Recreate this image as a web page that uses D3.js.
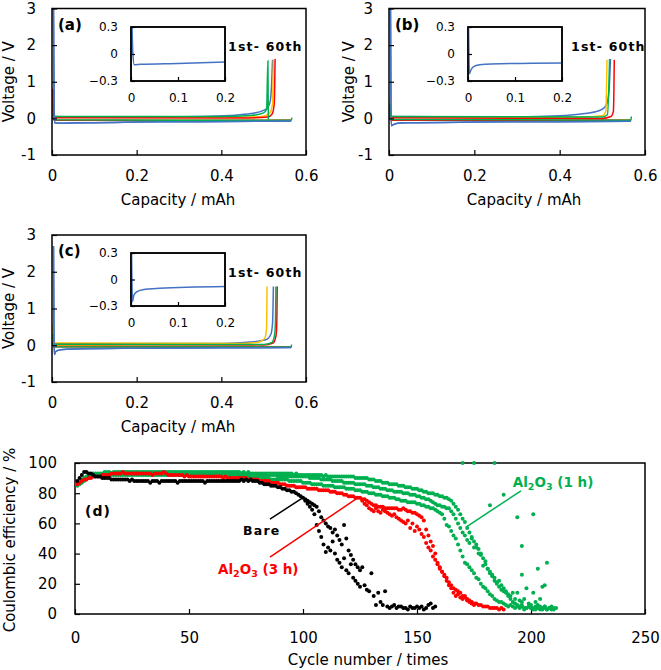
<!DOCTYPE html>
<html><head><meta charset="utf-8">
<script src="https://cdn.jsdelivr.net/npm/d3@7"></script>
<style>body{margin:0;background:#fff;}svg{display:block;}</style>
</head><body>
<svg id="chart" width="661" height="670"></svg>
<script>
// ---------------- DATA ----------------
// Voltage panels: cycle series (1st ... 60th), [capacity mAh, voltage V]
const cycleSeries = ["1st", "20th", "40th", "60th"];
const capTicks = [0, 0.2, 0.4, 0.6];
const voltTicks = [-1, 0, 1, 2, 3];
const insetCapTicks = [0, 0.1, 0.2];
const insetVoltTicks = [-0.3, 0, 0.3];

const aDischarge = [
  [[0.0035,3.0],[0.0045,1.2],[0.006,-0.12],[0.02,-0.13],[0.1,-0.12],[0.2,-0.1],[0.35,-0.09],[0.5,-0.08],[0.565,-0.07]],
  [[0.002,0.65],[0.003,0.1],[0.005,-0.05],[0.3,-0.05],[0.565,-0.05]],
  [[0.002,0.8],[0.003,0.1],[0.005,-0.05],[0.3,-0.06],[0.565,-0.05]],
  [[0.002,0.1],[0.004,-0.04],[0.3,-0.05],[0.565,-0.05],[0.567,0.02]]
];
const aCharge = [
  [[0.001,0.05],[0.2,0.03],[0.35,0.05],[0.42,0.08],[0.47,0.13],[0.5,0.22],[0.51,0.3],[0.516,0.5],[0.519,1.0],[0.521,1.6]],
  [[0.001,0.04],[0.45,0.03],[0.5,0.06],[0.515,0.15],[0.521,0.4],[0.523,1.6]],
  [[0.001,0.02],[0.45,0.01],[0.51,0.04],[0.52,0.12],[0.525,0.4],[0.527,1.62]],
  [[0.001,0.05],[0.4,0.05],[0.47,0.08],[0.5,0.15],[0.507,0.25],[0.51,1.57],[0.511,-0.03]]
];
const aInset = [[0.002,0.35],[0.004,0.0],[0.007,-0.12],[0.02,-0.115],[0.1,-0.105],[0.2,-0.09]];

const bDischarge = [
  [[0.0035,3.0],[0.0045,0.6],[0.0055,-0.2],[0.01,-0.17],[0.02,-0.13],[0.04,-0.12],[0.2,-0.1],[0.4,-0.09],[0.567,-0.08]],
  [[0.002,0.55],[0.003,0.1],[0.005,-0.04],[0.3,-0.05],[0.567,-0.05]],
  [[0.002,0.3],[0.004,-0.05],[0.567,-0.05]],
  [[0.002,0.4],[0.004,-0.03],[0.3,-0.04],[0.567,-0.05],[0.568,0.05]]
];
const bCharge = [
  [[0.001,0.05],[0.3,0.04],[0.4,0.07],[0.45,0.12],[0.49,0.2],[0.505,0.3],[0.512,0.45],[0.516,0.8],[0.519,1.62]],
  [[0.001,0.04],[0.45,0.03],[0.5,0.07],[0.508,0.18],[0.511,1.6]],
  [[0.001,0.02],[0.5,0.0],[0.52,0.05],[0.526,0.2],[0.528,1.6]],
  [[0.001,0.05],[0.5,0.04],[0.512,0.1],[0.517,1.62]]
];
const bInset = [[0.001,0.35],[0.002,0.0],[0.003,-0.22],[0.006,-0.18],[0.012,-0.14],[0.025,-0.12],[0.05,-0.11],[0.2,-0.1]];

const cDischarge = [
  [[0.0035,2.7],[0.0045,0.5],[0.0055,-0.25],[0.009,-0.17],[0.02,-0.12],[0.05,-0.1],[0.2,-0.08],[0.4,-0.07],[0.565,-0.06]],
  [[0.002,0.55],[0.003,0.1],[0.005,0.0],[0.3,-0.03],[0.565,-0.04]],
  [[0.002,0.1],[0.004,-0.04],[0.565,-0.05]],
  [[0.002,0.3],[0.004,-0.04],[0.3,-0.05],[0.565,-0.05],[0.566,0.02]]
];
const cCharge = [
  [[0.001,0.04],[0.4,0.05],[0.47,0.09],[0.505,0.15],[0.517,0.3],[0.521,0.6],[0.523,1.6]],
  [[0.001,0.06],[0.45,0.05],[0.49,0.09],[0.503,0.2],[0.507,0.5],[0.508,1.6]],
  [[0.001,0.02],[0.5,0.01],[0.522,0.06],[0.529,0.25],[0.531,0.6],[0.532,1.6]],
  [[0.001,0.03],[0.5,0.02],[0.52,0.08],[0.526,0.3],[0.528,0.7],[0.529,1.6]]
];
const cInset = [[0.001,0.35],[0.002,0.0],[0.003,-0.25],[0.006,-0.18],[0.012,-0.14],[0.025,-0.115],[0.06,-0.1],[0.2,-0.08]];

// Coulombic efficiency panel (d): values per cycle, starting at the given cycle
const cycleTicks = [0, 50, 100, 150, 200, 250];
const ceTicks = [0, 20, 40, 60, 80, 100];

const bareAStart = 1;
const bareA = [
  88,90,92,94,94,93,93,92,91,91, 91,90,90,90,90,89,89,89,89,89,
  89,89,89,88,89,88,88,88,88,88, 88,88,87,88,88,88,87,88,88,88,
  88,88,88,88,87,88,88,88,88,88, 88,88,88,88,88,88,87,88,88,88,
  88,88,88,88,88,88,88,88,88,88, 88,88,89,88,89,88,89,88,88,88,
  87,87,86,86,86,85,85,85,84,84, 83,83,82,82,81,81,80,79,78,77,
  76,75,74,73,72,71,68,64,62,60, 58,57,54,56,52,49,46,59,50,42,
  39,36,33,31,29,31,19,16,15,27, 12,6,14,8,6,15,5,4,5,6,
  4,5,5,4,4,3,5,4,4,5, 4,5,3,4,6,7,4,5
];
const bareBStart = 101;
const bareB = [
  75,73,71,69,66,59,55,51,46,41, 44,42,48,40,36,34,31,37,29,27,
  33,24,22,20,18
];

const al3hAStart = 1;
const al3hA = [
  86,87,88,89,89,90,90,91,91,91, 91,92,92,92,92,93,93,93,93,93,
  94,93,93,93,93,93,93,93,93,93, 93,93,93,92,93,93,93,93,94,93,
  92,92,92,92,92,92,92,91,92,91, 91,91,91,91,91,91,91,91,91,91,
  91,91,91,91,90,91,90,90,90,90, 90,90,90,90,90,89,89,89,89,89,
  88,88,88,88,88,87,87,87,87,86, 86,86,85,85,85,85,84,84,84,84,
  84,83,83,83,83,83,82,82,82,82, 82,81,81,81,80,80,80,79,79,78,
  78,78,77,77,77,76,76,75,74,73, 72,72,71,71,71,70,70,70,70,70,
  70,69,69,70,69,68,68,67,67,66, 65,64,62,56,52,48,45,40,34,31,
  28,26,24,21,19,17,16,15,14,12, 11,10,9,8,7,7,6,6,5,5,
  5,4,4,4,4,3,4,3
];
const al3hBStart = 126;
const al3hB = [
  75,73,72,70,69,68,70,68,67,69, 68,67,66,65,66,64,63,62,61,60,
  62,57,60,55,58,56,53,51,47,44, 42,38,36,33,30,28,25,22,19,17,
  14,12,13,11,10,12,9,8,7,6
];

const al1hAStart = 1;
const al1hA = [
  87,88,89,90,91,92,92,93,93,93, 93,93,94,94,94,93,94,94,94,94,
  94,94,94,94,94,94,94,94,94,94, 94,94,94,94,94,94,94,94,94,94,
  94,94,94,94,94,94,94,94,94,94, 94,94,94,94,94,94,94,94,94,94,
  94,94,94,94,94,94,94,94,94,94, 94,94,93,94,93,94,93,93,93,93,
  93,93,93,93,93,93,93,93,93,93, 93,93,93,93,93,92,93,92,92,92,
  92,92,92,92,92,92,92,92,91,92, 91,91,91,91,91,91,91,91,91,91,
  91,91,90,90,90,90,90,90,89,89, 89,88,88,88,87,87,87,86,86,86,
  86,85,85,85,84,84,84,83,83,83, 82,82,81,81,80,80,80,79,79,78,
  78,77,77,76,75,73,71,69,66,63, 61,57,54,50,48,46,43,40,37,33,
  30,27,25,22,20,18,16,15,14,12, 10,8,7,6,5,5,4,4,5,4,
  4,3,4,5,3,4,3,4,3,4
];
const al1hBStart = 1;
const al1hB = [
  85,86,87,88,89,90,91,91,92,92, 92,92,93,93,93,93,93,93,93,93,
  93,93,93,93,93,93,93,93,93,93, 93,93,93,93,93,93,93,93,93,93,
  93,93,93,93,93,93,93,93,93,93, 93,93,93,93,93,93,93,93,93,93,
  93,93,93,93,93,93,93,93,93,93, 93,92,93,92,92,92,92,92,92,92,
  92,92,92,92,92,92,92,92,91,91, 91,91,91,91,91,91,91,91,91,91,
  91,91,90,90,90,90,90,89,89,89, 89,89,88,88,88,88,88,87,87,87,
  87,87,86,86,86,86,86,85,85,85, 84,84,84,83,83,83,82,82,82,81,
  81,81,81,80,80,80,79,79,79,78, 78,77,77,76,76,75,74,73,72,72,
  71,71,70,70,68,66,63,60,57,54, 52,49,47,51,44,44,40,39,32,35,
  30,28,26,24,21,22,19,17,15,13, 12,14,10,14,9,8,10,17,7,6,
  14,8,6,10,18,5
];
const al1hCStart = 1;
const al1hC = [
  86,87,88,89,90,91,91,92,92,92, 92,92,92,92,92,92,92,92,92,92,
  92,92,92,92,92,92,92,92,92,92, 92,92,92,92,92,92,92,92,92,92,
  92,92,92,92,92,92,92,92,92,92, 92,92,92,92,92,92,92,92,92,92,
  92,92,92,92,92,92,92,91,92,91, 91,91,91,91,91,91,91,91,90,90,
  90,90,90,90,90,89,89,89,89,89, 89,89,89,88,88,88,88,88,88,87,
  87,87,87,86,86,86,86,86,85,85, 85,85,85,84,84,84,84,84,83,83,
  83,83,82,82,82,81,81,81,80,80, 80,79,79,79,78,78,78,77,77,77,
  76,76,75,75,75,74,74,74,74,73, 73,72,72,71,71,70,70,69,68,67,
  66,63,59,58,55,52,50,46,42,38, 34,33,31,29,27,24,23,20,18,17,
  15,13,12,10,9,8,8,7,6,5, 6,5,4,5,4,6,3,4,5,4,
  3,5,4,3,4,5,3,4,5,3, 4
];
const al1hOutliers = [[170,100],[175,100],[184,100],[182,72],[188,79],[194,64],[201,66],[196,45],[196,26],[203,30],[207,34],[206,19]];

// ---------------- DRAWING ----------------
const svg = d3.select("#chart");
const FONT = "'DejaVu Sans', Verdana, sans-serif";
const lineColors = ["#4472C4", "#FFC000", "#FF0000", "#00B050"];
const fmtSigned = d => (d < 0 ? "-" + Math.abs(d) : String(d));
let clipId = 0;

function styleAxis(g, fs) {
  g.attr("font-family", FONT).attr("font-size", fs);
  g.select(".domain").remove();
  g.selectAll(".tick line").attr("stroke", "#000").attr("stroke-width", 1.2);
  g.selectAll(".tick text").attr("fill", "#000");
}
function drawAxes(x, y, xt, yt, fx, fy, fs, xpad, ypad, tick) {
  const gx = svg.append("g").attr("transform", `translate(0,${y.range()[0]})`)
    .call(d3.axisBottom(x).tickValues(xt).tickFormat(fx).tickSize(-tick).tickPadding(xpad));
  styleAxis(gx, fs);
  const gy = svg.append("g").attr("transform", `translate(${x.range()[0]},0)`)
    .call(d3.axisLeft(y).tickValues(yt).tickFormat(fy).tickSize(-tick).tickPadding(ypad));
  styleAxis(gy, fs);
}
function frame(x, y, fill) {
  svg.append("rect").attr("x", x.range()[0]).attr("y", y.range()[1])
    .attr("width", x.range()[1] - x.range()[0]).attr("height", y.range()[0] - y.range()[1])
    .attr("fill", fill || "none").attr("stroke", "#000").attr("stroke-width", 1.5);
}
function clipFor(x, y) {
  const id = "clip" + (clipId++);
  svg.append("clipPath").attr("id", id).append("rect")
    .attr("x", x.range()[0]).attr("y", y.range()[1])
    .attr("width", x.range()[1] - x.range()[0]).attr("height", y.range()[0] - y.range()[1]);
  return "url(#" + id + ")";
}

function voltPanel(box, inBox, dis, chg, ins, label, lbl) {
  const x = d3.scaleLinear().domain([0, 0.6]).range([box.l, box.r]);
  const y = d3.scaleLinear().domain([-1, 3]).range([box.b, box.t]);
  const g = svg.append("g").attr("clip-path", clipFor(x, y));
  const line = d3.line().x(d => x(d[0])).y(d => y(d[1])).curve(d3.curveMonotoneX);
  dis.forEach((s, i) => g.append("path").attr("d", line(s)).attr("fill", "none")
    .attr("stroke", lineColors[i]).attr("stroke-width", 1.5));
  chg.forEach((s, i) => g.append("path").attr("d", line(s)).attr("fill", "none")
    .attr("stroke", lineColors[i]).attr("stroke-width", 1.5));
  drawAxes(x, y, capTicks, voltTicks, d => (d === 0 ? "0" : d3.format(".1f")(d)), fmtSigned, 15, 15, 16, 5);
  frame(x, y);
  // redraw the first-cycle curve over the frame edge so it stays visible
  g.append("path").attr("d", line(dis[0])).attr("fill", "none")
    .attr("stroke", lineColors[0]).attr("stroke-width", 1.5);
  // titles
  svg.append("text").attr("x", lbl.tx).attr("y", box.b + 50).attr("text-anchor", "middle")
    .attr("font-family", FONT).attr("font-size", 15).text("Capacity / mAh");
  svg.append("text").attr("transform", `translate(${lbl.ytx},${(box.t + box.b) / 2}) rotate(-90)`)
    .attr("text-anchor", "middle").attr("font-family", FONT).attr("font-size", 15).text("Voltage / V");
  svg.append("text").attr("x", box.l + 6).attr("y", box.t + 21).attr("font-family", FONT)
    .attr("font-weight", "bold").attr("font-size", 15).text(label);
  svg.append("text").attr("x", lbl.cx).attr("y", box.t + 42).attr("font-family", FONT)
    .attr("font-weight", "bold").attr("font-size", 12.5).attr("letter-spacing", 1.2).text("1st- 60th");
  // inset
  const xi = d3.scaleLinear().domain([0, 0.2]).range([inBox.l, inBox.r]);
  const yi = d3.scaleLinear().domain([-0.3, 0.3]).range([inBox.b, inBox.t]);
  frame(xi, yi, "#fff");
  const gi = svg.append("g").attr("clip-path", clipFor(xi, yi));
  const li = d3.line().x(d => xi(d[0])).y(d => yi(d[1])).curve(d3.curveMonotoneX);
  gi.append("path").attr("d", li(ins)).attr("fill", "none").attr("stroke", lineColors[0]).attr("stroke-width", 1.5);
  drawAxes(xi, yi, insetCapTicks, insetVoltTicks, d => (d === 0 ? "0" : d3.format(".1f")(d)),
    d => (d === 0 ? "0" : fmtSigned(d3.format(".1f")(d))), 12, 12, 13, 4);
  frame(xi, yi);
}

voltPanel({l: 52, r: 306, t: 8.5, b: 155}, {l: 131, r: 225, t: 27, b: 81}, aDischarge, aCharge, aInset, "(a)",
  {tx: 178, ytx: 13.5, cx: 228});
voltPanel({l: 389, r: 645, t: 8.5, b: 155}, {l: 468, r: 562, t: 27, b: 81}, bDischarge, bCharge, bInset, "(b)",
  {tx: 524, ytx: 354, cx: 571});
voltPanel({l: 52, r: 306, t: 235, b: 382}, {l: 131, r: 225, t: 253, b: 306}, cDischarge, cCharge, cInset, "(c)",
  {tx: 178, ytx: 13.5, cx: 228});

// ---- panel (d)
const xd = d3.scaleLinear().domain([0, 250]).range([75, 645]);
const yd = d3.scaleLinear().domain([0, 100]).range([614, 463]);
drawAxes(xd, yd, cycleTicks, ceTicks, d => String(d), d => String(d), 15, 18, 18, 5);
frame(xd, yd);

const toPts = (arr, start) => arr.map((v, i) => [start + i, v]);
const dotSets = [
  {pts: toPts(al1hA, al1hAStart), c: "#00B050"},
  {pts: toPts(al1hB, al1hBStart), c: "#00B050"},
  {pts: toPts(al1hC, al1hCStart), c: "#00B050"},
  {pts: al1hOutliers, c: "#00B050"},
  {pts: toPts(al3hA, al3hAStart), c: "#FF0000"},
  {pts: toPts(al3hB, al3hBStart), c: "#FF0000"},
  {pts: toPts(bareA, bareAStart), c: "#000000"},
  {pts: toPts(bareB, bareBStart), c: "#000000"}
];
dotSets.forEach(s => {
  svg.append("g").selectAll("circle").data(s.pts).join("circle")
    .attr("cx", d => xd(d[0])).attr("cy", d => yd(d[1])).attr("r", 2).attr("fill", s.c);
});

// annotations
function leader(p0, p1, c) {
  svg.append("line").attr("x1", xd(p0[0])).attr("y1", yd(p0[1])).attr("x2", xd(p1[0])).attr("y2", yd(p1[1]))
    .attr("stroke", c).attr("stroke-width", 1.5);
}
leader([85.5, 62.9], [100, 77], "#000");
leader([85.5, 37.7], [124.6, 77.5], "#FF0000");
leader([195.6, 81.5], [171.5, 57.6], "#00B050");

svg.append("text").attr("x", xd(4.4)).attr("y", yd(65)).attr("font-family", FONT).attr("font-weight", "bold")
  .attr("font-size", 14).attr("letter-spacing", 1).text("(d)");
svg.append("text").attr("x", xd(73.7)).attr("y", yd(52.3)).attr("font-family", FONT).attr("font-weight", "bold")
  .attr("font-size", 12.5).attr("letter-spacing", 1.2).text("Bare");

function alLabel(cx, cy, hours, color) {
  const t = svg.append("text").attr("x", xd(cx)).attr("y", yd(cy)).attr("font-family", FONT)
    .attr("font-weight", "bold").attr("font-size", 13.5).attr("fill", color).attr("xml:space", "preserve");
  t.append("tspan").text("Al");
  t.append("tspan").attr("font-size", 9.5).attr("dy", 3).text("2");
  t.append("tspan").attr("dy", -3).text("O");
  t.append("tspan").attr("font-size", 9.5).attr("dy", 3).text("3");
  t.append("tspan").attr("dy", -3).text(" (" + hours + " h)");
}
alLabel(62.7, 26.5, 3, "#FF0000");
alLabel(192, 84, 1, "#00B050");

svg.append("text").attr("x", 368).attr("y", 665).attr("text-anchor", "middle").attr("font-family", FONT)
  .attr("font-size", 15).text("Cycle number / times");
svg.append("text").attr("transform", "translate(14.5,540) rotate(-90)").attr("text-anchor", "middle")
  .attr("font-family", FONT).attr("font-size", 15).text("Coulombic efficiency / %");
</script>
</body></html>
